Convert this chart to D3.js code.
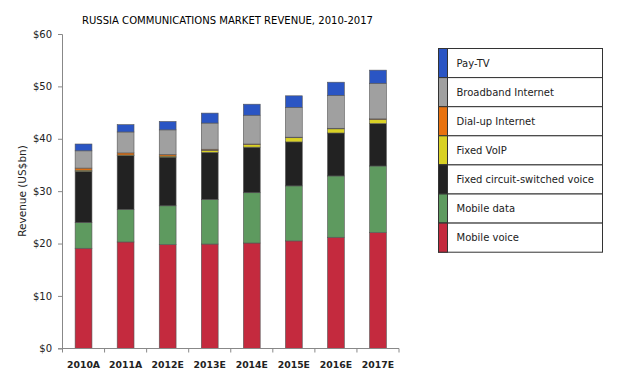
<!DOCTYPE html>
<html>
<head>
<meta charset="utf-8">
<script src="https://cdn.jsdelivr.net/npm/d3@7"></script>
<style>
  body { margin: 0; background: #fff; }
  text { font-family: "DejaVu Sans", Verdana, sans-serif; }
</style>
</head>
<body>
<div id="chart"></div>
<script>
// data (US$bn)
var years = ["2010A", "2011A", "2012E", "2013E", "2014E", "2015E", "2016E", "2017E"];
var mobileVoice = [19.1, 20.3, 19.8, 19.9, 20.1, 20.5, 21.2, 22.1];
var mobileData = [4.9, 6.2, 7.4, 8.5, 9.6, 10.5, 11.7, 12.7];
var fixedVoice = [9.8, 10.3, 9.3, 9.0, 8.7, 8.4, 8.2, 8.1];
var fixedVoip = [0.2, 0.1, 0.2, 0.4, 0.5, 0.8, 0.8, 0.8];
var dialUp = [0.4, 0.4, 0.3, 0.2, 0.1, 0.1, 0.1, 0.1];
var broadband = [3.3, 4.0, 4.7, 5.0, 5.5, 5.7, 6.3, 6.8];
var payTv = [1.3, 1.4, 1.6, 1.9, 2.1, 2.2, 2.5, 2.5];
var yTicks = [0, 10, 20, 30, 40, 50, 60];

var keys = ["Mobile voice", "Mobile data", "Fixed circuit-switched voice", "Fixed VoIP", "Dial-up Internet", "Broadband Internet", "Pay-TV"];
var colors = ["#c42a3e", "#5e9a5f", "#222222", "#d9d125", "#e8720f", "#a0a0a0", "#2a55c4"];

var dataset = years.map(function(y, i) {
  return {
    year: y,
    "Mobile voice": mobileVoice[i],
    "Mobile data": mobileData[i],
    "Fixed circuit-switched voice": fixedVoice[i],
    "Fixed VoIP": fixedVoip[i],
    "Dial-up Internet": dialUp[i],
    "Broadband Internet": broadband[i],
    "Pay-TV": payTv[i]
  };
});

var w = 621, h = 384;
var left = 62, right = 399;

var svg = d3.select("#chart").append("svg")
  .attr("width", w)
  .attr("height", h);

var series = d3.stack().keys(keys)(dataset);

var xScale = d3.scaleBand()
  .domain(years)
  .range([left + 0.5, right])
  .paddingInner(0.6)
  .paddingOuter(0.3);

var yScale = d3.scaleLinear()
  .domain([0, 60])
  .range([348.3, 34]);

var color = d3.scaleOrdinal().domain(keys).range(colors);

// title
svg.append("text")
  .attr("x", 82)
  .attr("y", 24)
  .attr("textLength", 291)
  .attr("lengthAdjust", "spacingAndGlyphs")
  .style("font-family", "'DejaVu Sans Condensed', 'DejaVu Sans', sans-serif")
  .style("font-size", "10.5px")
  .style("fill", "#000")
  .text("RUSSIA COMMUNICATIONS MARKET REVENUE, 2010-2017");

// bars
var groups = svg.selectAll("g.layer")
  .data(series)
  .enter()
  .append("g")
  .attr("class", "layer")
  .style("fill", function(d) { return color(d.key); });

groups.selectAll("rect")
  .data(function(d) { return d; })
  .enter()
  .append("rect")
  .attr("x", function(d) { return xScale(d.data.year); })
  .attr("y", function(d) { return yScale(d[1]); })
  .attr("height", function(d) { return yScale(d[0]) - yScale(d[1]); })
  .attr("width", xScale.bandwidth())
  .style("stroke", "#555")
  .style("stroke-width", 0.6);

// y axis
var yAxis = d3.axisLeft(yScale)
  .tickValues(yTicks)
  .tickSize(4)
  .tickPadding(6)
  .tickFormat(function(d) { return "$" + d; });

var gy = svg.append("g")
  .attr("transform", "translate(" + left + ",0)")
  .call(yAxis);
gy.select(".domain").attr("stroke", "#888");
gy.selectAll(".tick line").attr("stroke", "#888");
gy.selectAll(".tick text")
  .style("font-size", "10px")
  .style("font-family", "'DejaVu Sans', sans-serif")
  .style("fill", "#222");

// x axis with ticks at band boundaries
var boundaries = d3.range(years.length + 1).map(function(i) {
  return left + 0.5 + i * (right - left - 0.5) / years.length;
});
svg.append("line")
  .attr("x1", left)
  .attr("x2", right)
  .attr("y1", 348.5)
  .attr("y2", 348.5)
  .attr("stroke", "#888");
svg.selectAll("line.xt")
  .data(boundaries)
  .enter().append("line")
  .attr("class", "xt")
  .attr("x1", function(d) { return d; })
  .attr("x2", function(d) { return d; })
  .attr("y1", 348.5)
  .attr("y2", 352.5)
  .attr("stroke", "#888");
svg.selectAll("text.xl")
  .data(years)
  .enter().append("text")
  .attr("class", "xl")
  .attr("x", function(d) { return xScale(d) + xScale.bandwidth() / 2; })
  .attr("y", 368)
  .attr("text-anchor", "middle")
  .style("font-size", "9.3px")
  .style("font-weight", "bold")
  .style("fill", "#222")
  .text(function(d) { return d; });

// y label
svg.append("text")
  .attr("transform", "translate(26,191) rotate(-90)")
  .attr("text-anchor", "middle")
  .style("font-size", "10.5px")
  .style("fill", "#222")
  .text("Revenue (US$bn)");

// legend
var legendKeys = keys.slice().reverse();
var lx = 438.5, ly = 48.5, lw = 164, rowH = 29.1;
var legend = svg.selectAll(".legend")
  .data(legendKeys)
  .enter().append("g")
  .attr("class", "legend")
  .attr("transform", function(d, i) { return "translate(" + lx + "," + (ly + i * rowH) + ")"; });

legend.append("rect")
  .attr("width", lw)
  .attr("height", rowH)
  .style("fill", "#fff")
  .style("stroke", "#333")
  .style("stroke-width", 1);

legend.append("rect")
  .attr("width", 9)
  .attr("height", rowH)
  .style("fill", color)
  .style("stroke", "#333")
  .style("stroke-width", 1);

legend.append("text")
  .attr("x", 18)
  .attr("y", rowH / 2)
  .attr("dy", ".35em")
  .style("font-size", "10px")
  .style("fill", "#222")
  .text(function(d) { return d; });
</script>
</body>
</html>
